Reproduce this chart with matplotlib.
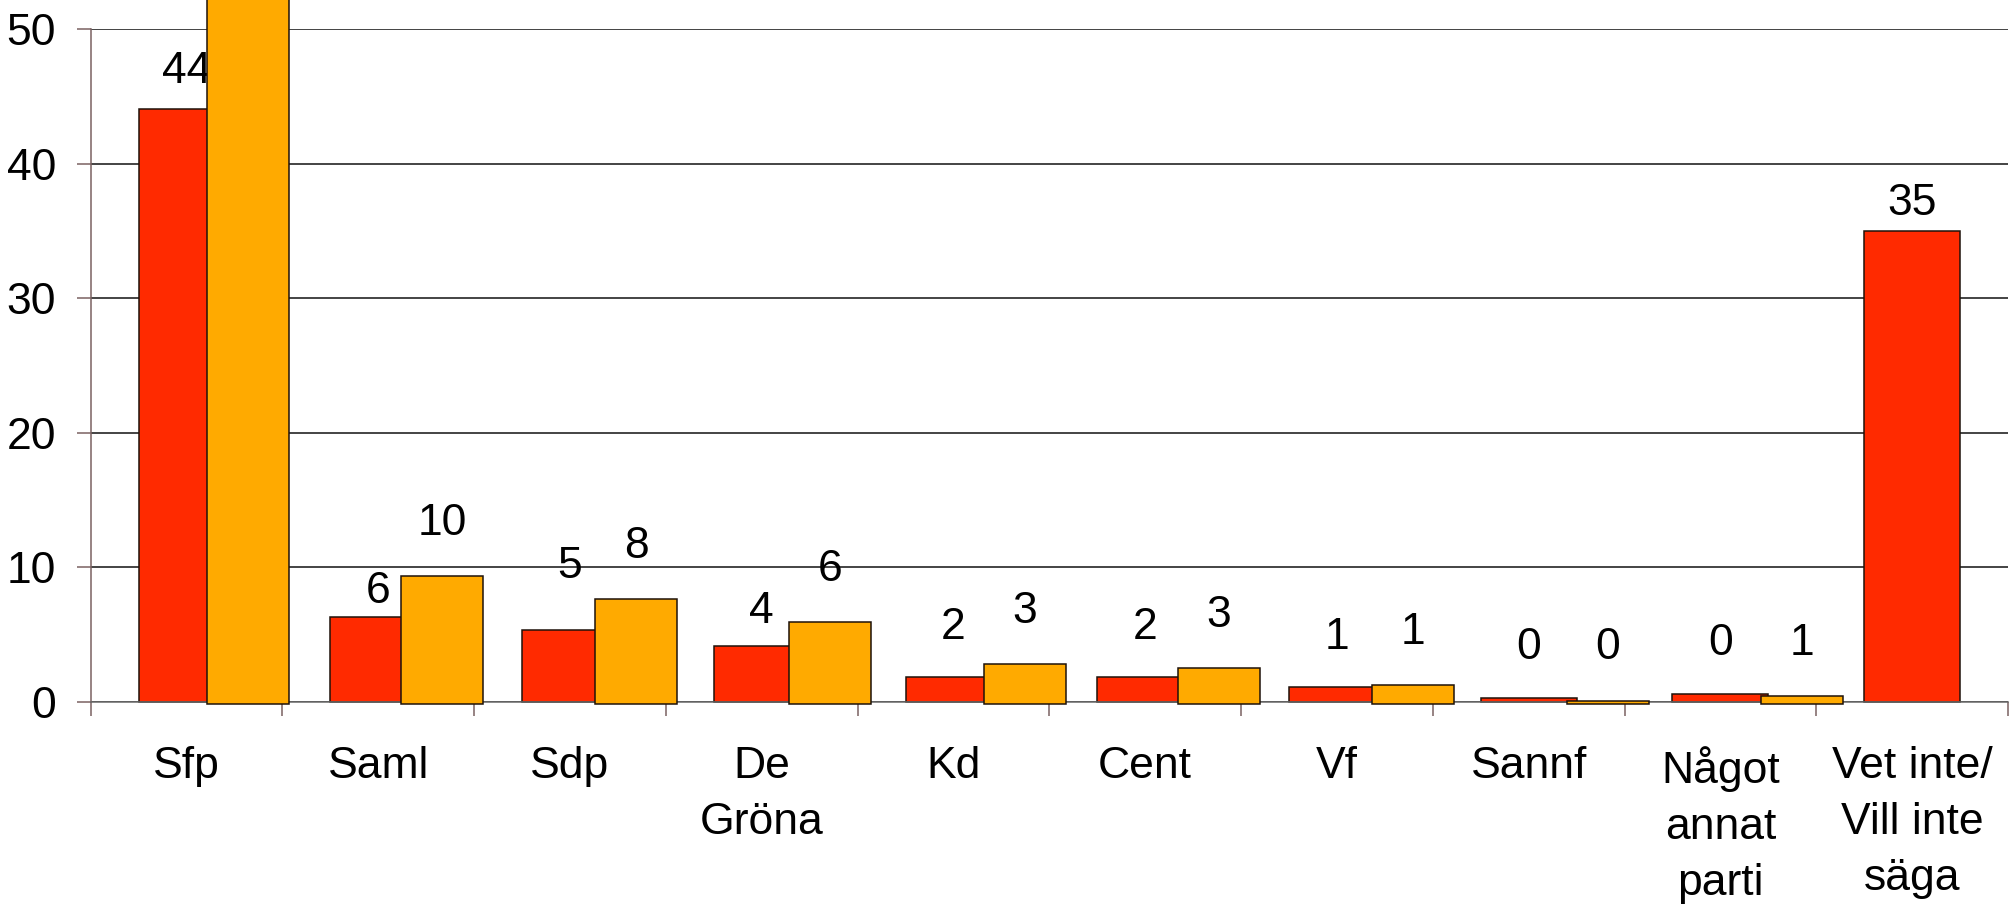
import numpy as np
import matplotlib
matplotlib.use('Agg')
import matplotlib.pyplot as plt

plt.rcParams['font.family'] = ['Liberation Sans', 'DejaVu Sans']

partier = ['Sfp', 'Saml', 'Sdp', 'De\nGröna', 'Kd', 'Cent', 'Vf', 'Sannf',
           'Något\nannat\nparti', 'Vet inte/\nVill inte\nsäga']

# röd serie (stapelhöjd och etikett)
rod = [44.1, 6.3, 5.3, 4.1, 1.8, 1.8, 1.05, 0.28, 0.57, 35.0]
rod_etikett = ['44', '6', '5', '4', '2', '2', '1', '0', '0', '35']

# orange serie (Vet inte saknas)
orange = [54.0, 9.5, 7.8, 6.1, 2.95, 2.66, 1.42, 0.25, 0.6, np.nan]
orange_etikett = ['', '10', '8', '6', '3', '3', '1', '0', '1', '']

yticks = [0, 10, 20, 30, 40, 50]

# etiketternas avstånd ovanför stapeln (punkter)
rod_lyft = [27, 18, 46, 25, 36, 36, 36, 36, 36, 20]
orange_lyft = 38

ROD = '#FF2A00'
ORANGE = '#FFAA00'
KANT = '#1e120a'
FS = 32

fig = plt.figure(figsize=(20.11, 9.06), dpi=100)
ax = fig.add_axes([0.0451, 0.2257, 0.9534, 0.742])

x = np.arange(len(partier))
x_rod = x + 0.25
x_orange = 0.604 + 1.0134 * x   # orange serien ligger lite förskjuten i originalet

ax.bar(x_rod, rod, width=0.5, align='edge', color=ROD, edgecolor=KANT,
       linewidth=1.1, zorder=2, clip_on=False)
for xi, v, t, lyft in zip(x_rod, rod, rod_etikett, rod_lyft):
    ax.annotate(t, (xi + 0.25, v), xytext=(0, lyft), textcoords='offset points',
                ha='center', va='center', fontsize=FS, zorder=3)

ax.bar(x_orange, orange, width=0.428, align='edge', bottom=-0.19, color=ORANGE,
       edgecolor=KANT, linewidth=1.1, zorder=4, clip_on=False)
for xi, v, t in zip(x_orange, orange, orange_etikett):
    if t:
        ax.annotate(t, (xi + 0.214, v - 0.19), xytext=(0, orange_lyft),
                    textcoords='offset points', ha='center', va='center',
                    fontsize=FS, zorder=5)

ax.set_xlim(0, len(partier))
ax.set_ylim(0, 50)
ax.set_yticks(yticks)
ax.set_yticklabels([str(t) for t in yticks], fontsize=FS)
ax.yaxis.grid(True, color='#353535', linewidth=1.3, zorder=0)
ax.set_axisbelow(True)

# kategorigränser som streck, namnen i mitten
ax.set_xticks(np.arange(len(partier) + 1))
ax.set_xticklabels([])
ax.set_xticks(x + 0.5, minor=True)
ax.set_xticklabels(partier, minor=True, fontsize=FS, linespacing=1.47, va='top')
ax.tick_params(axis='x', which='major', direction='out', length=10, width=1.1, color='#7a6262')
ax.tick_params(axis='x', which='minor', length=0, pad=32)
ax.tick_params(axis='y', direction='out', length=10, width=1.1, color='#7a6262', pad=15)

for s in ['top', 'right']:
    ax.spines[s].set_visible(False)
ax.spines['left'].set_color('#7a6262')
ax.spines['bottom'].set_color('#6a6a6a')
ax.spines['left'].set_linewidth(1.1)
ax.spines['bottom'].set_linewidth(1.1)

fig.savefig('out.png', dpi=100)
